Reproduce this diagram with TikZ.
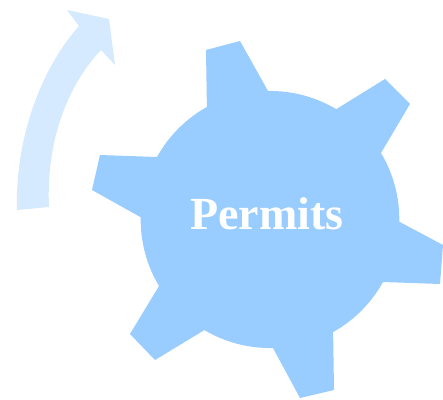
\documentclass[tikz,border=0pt]{standalone}
\usepackage{fontspec}
\setmainfont{Liberation Serif}
\definecolor{gearblue}{HTML}{99CCFF}
\definecolor{arrowblue}{HTML}{D5E9FF}
\begin{document}
\begin{tikzpicture}[
    x=1pt, y=1pt,
    gear/.style={fill=gearblue, draw=none},
    turn/.style={fill=arrowblue, draw=none},
    label/.style={font=\fontsize{46}{46}\selectfont\bfseries, text=white, inner sep=0pt}
]
\useasboundingbox (0,0) rectangle (443,399);
% turning arrow
\fill[turn] (17,189) .. controls (15,259) and (40,329) .. (79,373)
    -- (67,389) -- (109,380) -- (115,334) -- (101,349)
    .. controls (68,314) and (46,259) .. (49,192) -- cycle;
% gear, in pixel coordinates with y flipped
\fill[gear] (206,349) -- (240,358) -- (268,308)
    arc[start angle=91, end angle=59.2, radius=129pt]
    -- (385,320) -- (410,295) -- (381,246)
    arc[start angle=30.9, end angle=-1.1, radius=129pt]
    -- (443,154) -- (440,115) -- (383,117)
    arc[start angle=-29, end angle=-60.8, radius=129pt]
    -- (334,9) -- (300,1) -- (273,51)
    arc[start angle=-88.7, end angle=-120.6, radius=129pt]
    -- (155,39) -- (130,65) -- (159,113)
    arc[start angle=-149.1, end angle=-181.1, radius=129pt]
    -- (92,209) -- (100,244) -- (157,242)
    arc[start angle=151, end angle=119.2, radius=129pt]
    -- cycle;
\node[label, anchor=base] (permits) at (267,170) {Permits};
\end{tikzpicture}
\end{document}
